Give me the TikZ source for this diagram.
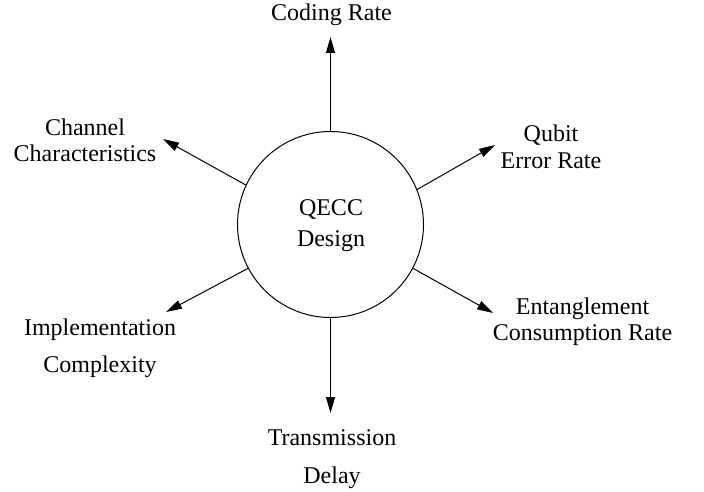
\documentclass[tikz,border=0pt]{standalone}
\usepackage{fontspec}
\setmainfont{Liberation Serif}
\usetikzlibrary{arrows.meta}
\begin{document}
\begin{tikzpicture}[x=0.5pt,y=-0.5pt,
  lbl/.style={align=center,inner sep=0pt,anchor=base,font=\fontsize{12}{13}\selectfont},
  hub/.style={circle,draw,line width=0.5pt,minimum size=93pt,inner sep=0pt},
  link/.style={line width=0.5pt,-{Triangle[length=8pt,width=4.5pt]}}]
\useasboundingbox (0,0) rectangle (704,491);
% central design circle; multi-line labels are placed by the baseline of their last line
\node[hub] (design) at (330.5,224.5) {};
\node[lbl] (qecc) at (331,246) {QECC\\[2pt]Design};
% arrow tips
\coordinate (tipR) at (330.5,37);
\coordinate (tipC) at (163,139);
\coordinate (tipQ) at (495,145);
\coordinate (tipI) at (166,312);
\coordinate (tipE) at (493,313);
\coordinate (tipT) at (330.5,413);
% outward arrows
\draw[link] (design.north) -- (tipR);
\draw[link] (design.155) -- (tipC);
\draw[link] (design.22) -- (tipQ);
\draw[link] (design.208) -- (tipI);
\draw[link] (design.332) -- (tipE);
\draw[link] (design.south) -- (tipT);
% design criteria
\node[lbl] (rate) at (331.5,21) {Coding Rate};
\node[lbl] (chan) at (85,162) {Channel\\Characteristics};
\node[lbl] (qber) at (551,169) {Qubit\\[0.5pt]Error Rate};
\node[lbl] (impl) at (100,372) {Implementation\\[5.5pt]Complexity};
\node[lbl] (ecr) at (582.5,340) {Entanglement\\Consumption Rate};
\node[lbl] (delay) at (332,483) {Transmission\\[6pt]Delay};
\end{tikzpicture}
\end{document}
